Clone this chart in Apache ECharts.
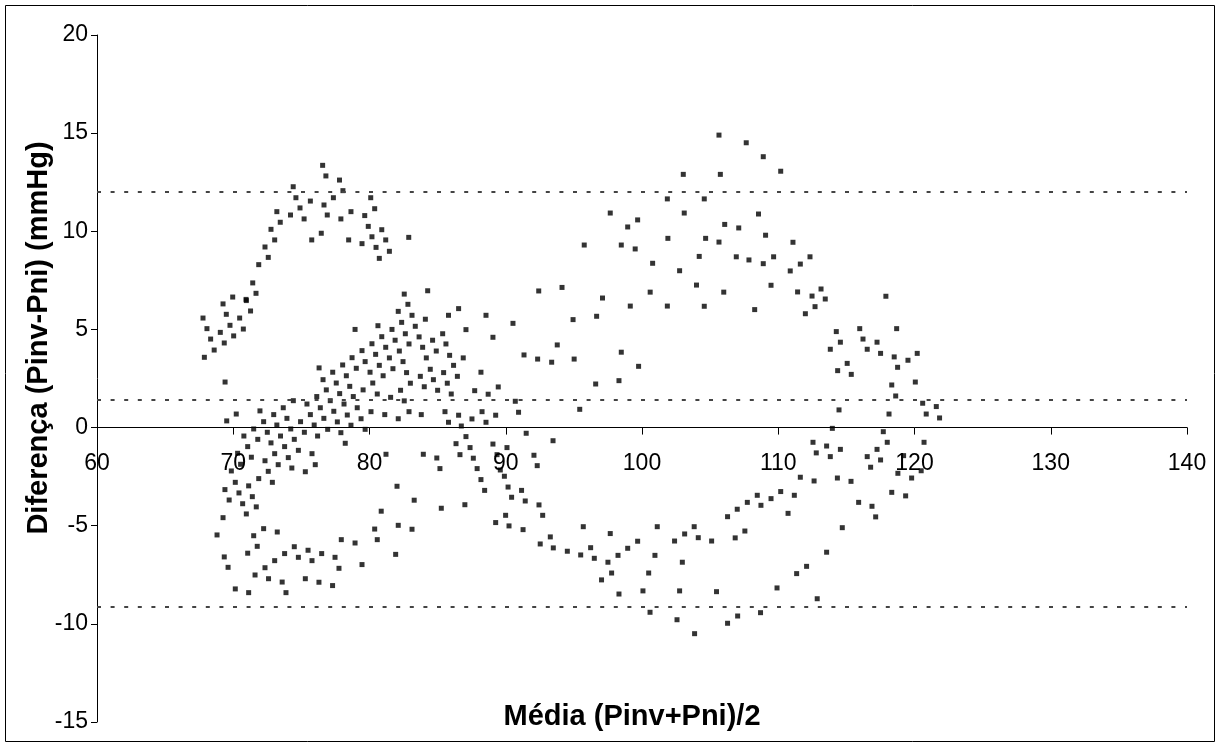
<!DOCTYPE html>
<html>
<head>
<meta charset="utf-8">
<script src="https://cdn.jsdelivr.net/npm/echarts@6/dist/echarts.min.js"></script>
<style>html,body{margin:0;padding:0;background:#fff}#c{width:1220px;height:747px}</style>
</head>
<body>
<div id="c"></div>
<script>
// Axis ticks
const xTicks = [60, 70, 80, 90, 100, 110, 120, 130, 140];
const yTicks = [-15, -10, -5, 0, 5, 10, 15, 20];
// Limits of agreement (mean difference and ±1.96 SD)
const meanDiff = 1.42;
const upperLimit = 11.99;
const lowerLimit = -9.14;
// Points: [mean (Pinv+Pni)/2, difference Pinv-Pni]
const upperLeftArm = [[76.56,13.36],[76.8,12.82],[77.8,12.61],[74.4,12.27],[78.05,12.07],[74.6,11.71],[75.66,11.54],[77.35,11.71],[76.66,11.34],[74.9,11.19],[73.2,11.0],[78.64,11.0],[74.2,10.83],[75.2,10.63],[76.9,10.83],[77.9,10.63],[73.45,10.46],[72.77,10.1],[73.04,9.56],[75.76,9.56],[76.46,9.9],[78.47,9.56],[72.33,9.2],[72.57,8.67],[71.87,8.3],[71.43,7.37],[71.67,6.84],[69.96,6.65],[70.94,6.53],
[80.09,11.71],[80.38,11.15],[79.65,10.8],[79.91,10.25],[80.9,10.08],[80.18,9.72],[81.19,9.56],[82.88,9.69],[79.45,9.37],[80.48,9.18],[81.46,8.98],[80.72,8.62],[82.55,6.8],[84.27,6.97],[92.42,6.96]];
const upperRight = [[105.65,14.9],[107.65,14.51],[103.03,12.9],[105.75,12.9],[101.86,11.65],[104.57,11.65],[97.67,10.93],[103.1,10.93],[99.68,10.58],[98.95,10.22],[106.07,10.35],[107.1,10.17],[101.9,9.64],[104.67,9.64],[105.65,9.45],[95.76,9.3],[98.48,9.3],[99.5,9.1],[104.2,8.72],[106.92,8.7],[107.85,8.54],[100.78,8.37],[102.76,7.99],[104.0,7.26],[106.0,6.9],[100.6,6.9],[94.13,7.14],[97.1,6.6],
[108.9,13.8],[110.18,13.06],[108.55,10.88],[109.07,9.8],[111.08,9.44],[108.9,8.35],[109.66,8.7],[110.88,7.98],[111.62,8.33],[112.33,8.7],[109.47,7.25],[111.42,6.91],[112.48,6.7],[113.14,7.06],[113.45,6.55],[117.9,6.69]];
const leftCluster = [[70.96,6.47],[69.25,6.3],[71.27,5.94],[69.49,5.77],[67.78,5.58],[70.47,5.58],[68.07,5.04],[69.76,5.21],[70.74,5.02],[69.05,4.85],[68.34,4.51],[70.03,4.67],[69.34,4.31],[68.6,3.95],[67.88,3.58],[69.4,2.32],
[78.94,5.0],[78.72,3.56],[79.03,3.02],[76.3,3.04],[77.3,2.82],[78.03,3.19],[76.59,2.44],[77.56,2.27],[78.3,2.64],[78.55,2.1],[76.83,1.92],[77.81,1.73],[76.13,1.58],[78.81,1.58],[77.12,1.37],[74.41,1.37],[75.41,1.2],[78.13,1.2],[76.39,1.01],[79.1,1.01],[73.67,1.01],[71.96,0.85],[72.97,0.66],[75.66,0.66],[77.38,0.83],[78.37,0.64],[70.22,0.69],[73.94,0.47],[76.65,0.47],[69.52,0.34],[72.23,0.3],[74.94,0.3],[77.64,0.29],[73.2,0.13],[75.94,0.13],[78.64,0.12],[71.5,-0.07],[74.22,-0.07],[76.93,-0.09],[72.5,-0.24],[75.22,-0.24],[77.9,-0.26],[70.78,-0.43],[73.47,-0.43],[76.19,-0.43],[71.8,-0.6],[74.48,-0.6],[72.77,-0.78],[78.22,-0.8],[71.06,-0.97],[73.77,-0.97],[74.78,-1.16],[70.32,-1.31],[73.04,-1.33],[75.78,-1.33],[71.33,-1.51],[74.04,-1.53],[72.33,-1.69],[70.54,-1.87],[73.3,-1.89],[76.02,-1.89],[69.86,-2.21],[72.57,-2.23],[75.29,-2.25],[74.3,-2.06]];
const centralCluster = [[82.82,6.28],[82.11,5.92],[83.12,5.72],[86.54,6.06],[85.8,5.72],[88.55,5.72],[84.1,5.52],[82.36,5.36],[80.62,5.19],[83.36,5.16],[90.53,5.31],[81.65,5.0],[87.08,4.99],[82.63,4.78],[85.37,4.78],[80.9,4.63],[83.64,4.62],[89.06,4.6],[81.88,4.45],[84.63,4.45],[80.18,4.27],[82.9,4.26],[85.61,4.26],[81.19,4.09],[83.9,4.09],[79.45,3.92],[82.19,3.9],[84.9,3.9],[80.45,3.73],[85.88,3.68],[91.34,3.7],[81.46,3.55],[84.17,3.55],[86.88,3.55],[92.34,3.49],[79.68,3.36],[82.46,3.36],[93.37,3.33],[80.72,3.17],[86.17,3.17],[81.72,3.0],[84.46,2.97],[80.04,2.82],[82.72,2.8],[85.44,2.8],[88.18,2.82],[81.0,2.64],[83.73,2.61],[86.45,2.61],[84.69,2.44],[80.24,2.27],[83.0,2.26],[85.71,2.26],[84.02,2.08],[89.45,2.07],[79.53,1.92],[82.28,1.9],[85.0,1.9],[87.72,1.88],[80.57,1.71],[86.0,1.71],[88.71,1.7],[81.55,1.54],[82.55,1.36],[90.7,1.34],[80.11,0.81],[81.12,0.66],[82.9,0.81],[83.8,0.66],[85.54,0.81],[86.54,0.63],[88.26,0.81],[89.26,0.63],[90.94,0.78],[79.38,0.45],[82.11,0.45],[87.52,0.44],[85.8,0.27],[88.55,0.27],[86.74,0.08],[79.68,-0.09],[91.5,-0.29],[87.08,-0.46],[93.47,-0.67],[86.35,-0.82],[89.06,-0.84],[87.38,-1.02],[90.09,-1.02],[81.21,-1.36],[83.95,-1.36],[86.64,-1.38],[89.36,-1.38],[92.07,-1.41],[84.94,-1.55],[87.62,-1.56],[85.17,-2.09],[87.9,-2.09],[92.31,-1.94],
[99.14,6.19],[101.86,6.19],[104.57,6.18],[94.94,5.5],[96.67,5.67],[93.78,4.21],[95.02,3.49],[98.48,3.84],[99.75,3.12],[96.6,2.22],[98.31,2.39],[95.43,0.93]];
const rightCluster = [[108.27,6.01],[111.99,5.8],[112.7,6.16],[114.26,4.89],[115.98,5.04],[118.69,5.04],[114.56,4.35],[116.22,4.51],[117.25,4.35],[113.82,3.99],[116.53,3.99],[117.51,3.78],[118.51,3.6],[120.2,3.78],[119.52,3.43],[115.06,3.27],[118.76,3.07],[114.36,2.9],[115.36,2.71],[120.06,2.32],[118.33,2.17],[118.62,1.61],[120.6,1.24],[121.6,1.07],[120.86,0.69],[121.84,0.49],[118.13,0.69],[114.46,0.9],[113.97,-0.04],[117.71,-0.21],[112.55,-0.75],[113.55,-0.94],[118.0,-0.75],[120.7,-0.75],[112.79,-1.29],[113.82,-1.48],[114.56,-1.11],[117.25,-1.11],[116.53,-1.48],[117.51,-1.65],[116.78,-2.02],[118.78,-2.33],[120.49,-2.2],[119.2,-1.43],
[111.62,-2.53],[112.63,-2.72],[114.34,-2.57],[115.34,-2.74],[119.79,-2.57],[118.33,-3.3],[119.35,-3.48],[108.46,-3.45],[108.73,-3.96],[109.47,-3.62],[110.18,-3.26],[111.18,-3.45],[110.72,-4.37],[115.9,-3.81],[116.88,-4.01],[117.15,-4.55],[114.7,-5.1],[113.55,-6.35],[112.08,-7.07],[111.35,-7.44],[109.91,-8.17],[112.86,-8.72],[108.7,-9.43]];
const lowerLeftArm = [[70.15,-2.79],[71.13,-2.97],[71.87,-2.6],[72.87,-2.79],[69.39,-3.16],[70.42,-3.33],[71.4,-3.52],[69.7,-3.69],[70.69,-3.88],[71.69,-4.04],[70.96,-4.4],[69.25,-4.59],[72.23,-5.15],[73.23,-5.32],[68.81,-5.47],[71.5,-5.51],[71.76,-6.05],[77.93,-5.71],[78.94,-5.88],[74.48,-6.07],[75.49,-6.25],[71.06,-6.4],[73.77,-6.42],[76.49,-6.42],[69.34,-6.59],[74.78,-6.61],[77.47,-6.61],[73.04,-6.78],[75.78,-6.78],[69.62,-7.12],[72.33,-7.14],[77.76,-7.17],[71.6,-7.51],[72.59,-7.7],[75.29,-7.7],[73.59,-7.87],[76.29,-7.88],[77.29,-8.05],[70.15,-8.22],[71.13,-8.41],[73.87,-8.41],
[82.02,-2.99],[83.28,-3.7],[80.86,-4.26],[85.27,-4.11],[87.0,-3.93],[80.38,-5.17],[82.11,-4.98],[83.12,-5.18],[80.57,-5.71],[81.92,-6.46],[79.45,-6.98]];
const lowerMiddle = [[89.9,-2.48],[88.18,-2.65],[90.17,-3.03],[88.45,-3.2],[91.16,-3.2],[90.43,-3.55],[91.43,-3.74],[92.44,-3.94],[89.99,-4.47],[92.71,-4.47],[89.26,-4.84],[90.24,-5.01],[91.27,-5.2],[93.27,-5.57],[92.53,-5.93],[93.49,-6.13],[89.6,-2.16],
[95.69,-5.05],[94.52,-6.3],[95.5,-6.49],[96.23,-6.12],[96.5,-6.66],[97.67,-5.4],[97.5,-6.86],[98.24,-6.51],[98.95,-6.15],[99.68,-5.79],[97.03,-7.76],[97.77,-7.41],[98.31,-8.48],[101.12,-5.05],[100.95,-6.51],[100.49,-7.41],[100.07,-8.32],[100.59,-9.41],[102.39,-5.78],[103.13,-5.42],[103.83,-5.05],[104.13,-5.61],[105.11,-5.78],[102.96,-6.86],[102.76,-8.32],[102.57,-9.79],[103.86,-10.5],[105.47,-8.36],[106.28,-9.97],[107.02,-9.6],[106.28,-4.54],[106.99,-4.16],[107.73,-3.81],[106.84,-5.62],[107.55,-5.27]];

const allPoints = [].concat(upperLeftArm, upperRight, leftCluster, centralCluster, rightCluster, lowerLeftArm, lowerMiddle);

const FONT = '"Liberation Sans", Arial, sans-serif';
const GRID_TOP = 35, GRID_BOTTOM = 25, H = 747;
const plotH = H - GRID_TOP - GRID_BOTTOM;
const yMin = yTicks[0], yMax = yTicks[yTicks.length - 1];
// shift the x axis (with its labels) up to where y = 0 lies
const xAxisOffset = -(plotH * (0 - yMin) / (yMax - yMin));

const chart = echarts.init(document.getElementById('c'), null, {renderer: 'canvas'});
chart.setOption({
  animation: false,
  backgroundColor: '#ffffff',
  grid: {left: 97, right: 33, top: GRID_TOP, bottom: GRID_BOTTOM, containLabel: false},
  xAxis: {
    type: 'value', min: xTicks[0], max: xTicks[xTicks.length - 1], interval: 10,
    offset: xAxisOffset,
    axisLine: {show: true, onZero: false, lineStyle: {color: '#000', width: 1}},
    axisTick: {show: true, length: 7, lineStyle: {color: '#000'}},
    axisLabel: {color: '#000', fontSize: 23, fontFamily: FONT, margin: 25, showMinLabel: true, showMaxLabel: true},
    splitLine: {show: false}
  },
  yAxis: {
    type: 'value', min: yMin, max: yMax, interval: 5,
    axisLine: {show: true, onZero: false, lineStyle: {color: '#000', width: 1}},
    axisTick: {show: true, length: 6, lineStyle: {color: '#000'}},
    axisLabel: {color: '#000', fontSize: 23, fontFamily: FONT, margin: 9},
    splitLine: {show: false}
  },
  graphic: [
    {type: 'rect', shape: {x: 5.5, y: 5.5, width: 1209, height: 736}, style: {fill: 'none', stroke: '#000', lineWidth: 1}, silent: true, z: -1},
    {type: 'text', x: 632, y: 717, style: {text: 'Média (Pinv+Pni)/2', font: 'bold 29px ' + FONT, fill: '#000', textAlign: 'center', textVerticalAlign: 'middle'}},
    {type: 'text', x: 39, y: 338, rotation: Math.PI / 2, style: {text: 'Diferença (Pinv-Pni) (mmHg)', font: 'bold 29px ' + FONT, fill: '#000', textAlign: 'center', textVerticalAlign: 'middle'}}
  ],
  series: [{
    type: 'scatter',
    data: allPoints,
    symbol: 'rect',
    symbolSize: 5,
    itemStyle: {color: '#000'},
    silent: true,
    markLine: {
      silent: true,
      symbol: ['none', 'none'],
      label: {show: false},
      lineStyle: {color: '#444', width: 2, type: [4, 9.6]},
      data: [{yAxis: upperLimit}, {yAxis: meanDiff}, {yAxis: lowerLimit}]
    }
  }]
});
</script>
</body>
</html>
